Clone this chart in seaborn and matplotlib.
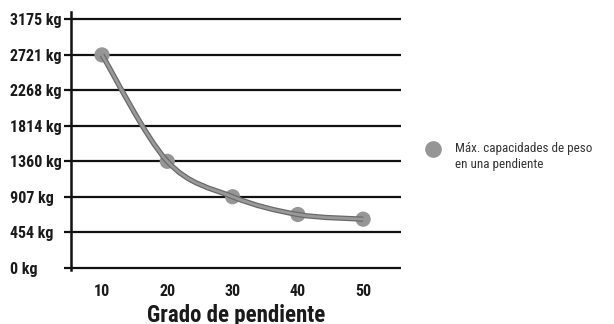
import matplotlib
matplotlib.use("Agg")
import matplotlib.pyplot as plt
from matplotlib.path import Path
from matplotlib.patches import PathPatch
import seaborn as sns
import numpy as np
import pandas as pd

# Slope grade vs. maximum load capacity
grades = [10, 20, 30, 40, 50]
capacity_kg = [2721, 1360, 907, 680, 620]
ytick_values = [0, 454, 907, 1360, 1814, 2268, 2721, 3175]
ytick_labels = [f"{v} kg" for v in ytick_values]
legend_text = "Máx. capacidades de peso\nen una pendiente"
xlabel_text = "Grado de pendiente"

sns.set_theme(style="white")
plt.rcParams["font.family"] = ["Roboto Condensed", "Archivo Narrow",
                               "PT Sans Narrow", "Liberation Sans", "DejaVu Sans"]

df = pd.DataFrame({"grado": grades, "kg": capacity_kg})

fig = plt.figure(figsize=(6.14, 3.24), dpi=100)
ax = fig.add_axes([71 / 614, 1 - 270 / 324, 330 / 614, 258 / 324])

for v in ytick_values:
    ax.axhline(v, color="#111111", lw=1.6, zorder=1)

sns.scatterplot(data=df, x="grado", y="kg", ax=ax, s=120, color="#969696",
                edgecolor="none", zorder=3, legend=False)

# Smooth curve through the points (Catmull-Rom as cubic Bezier segments)
pts = np.column_stack([grades, capacity_kg]).astype(float)
verts = [tuple(pts[0])]
codes = [Path.MOVETO]
n = len(pts)
for i in range(n - 1):
    p0 = pts[i - 1] if i > 0 else pts[i]
    p1, p2 = pts[i], pts[i + 1]
    p3 = pts[i + 2] if i + 2 < n else pts[i + 1]
    c1 = p1 + (p2 - p0) / 6.0
    c2 = p2 - (p3 - p1) / 6.0
    verts += [tuple(c1), tuple(c2), tuple(p2)]
    codes += [Path.CURVE4] * 3
path = Path(verts, codes)
ax.add_patch(PathPatch(path, facecolor="none", edgecolor="#6a6a6a", lw=3.8,
                       capstyle="butt", zorder=4))
ax.add_patch(PathPatch(path, facecolor="none", edgecolor="#999999", lw=2.0,
                       capstyle="butt", zorder=5))

ax.set_xlim(5.25, 55.8)
ax.set_ylim(-30, 3270)
ax.set_xticks(grades)
ax.set_xticklabels([str(g) for g in grades], fontsize=11.5, fontweight=800,
                   color="#1a1a1a")
ax.set_yticks(ytick_values)
ax.set_yticklabels(ytick_labels, fontsize=11.5, fontweight=800, color="#1a1a1a")
ax.tick_params(axis="y", length=5, width=1.6, color="#111111", pad=1, left=True)
ax.tick_params(axis="x", length=0, pad=10)
for lab in ax.get_yticklabels():
    lab.set_horizontalalignment("left")
    lab.set_x(-53 / 330)

for side in ["top", "right", "bottom"]:
    ax.spines[side].set_visible(False)
ax.spines["left"].set_color("#111111")
ax.spines["left"].set_linewidth(1.8)
ax.set_xlabel(xlabel_text, fontsize=16.5, fontweight=800, labelpad=4,
              color="#1a1a1a")
ax.set_ylabel("")

fig.lines.append(plt.Line2D([433 / 614], [1 - 149 / 324], marker="o",
                            markersize=11, color="#969696", ls="none",
                            transform=fig.transFigure))
fig.text(455 / 614, 1 - 142 / 324, legend_text, fontsize=9.4, color="#333333",
         va="top", ha="left", linespacing=1.3)

fig.savefig("out.png", dpi=100)
